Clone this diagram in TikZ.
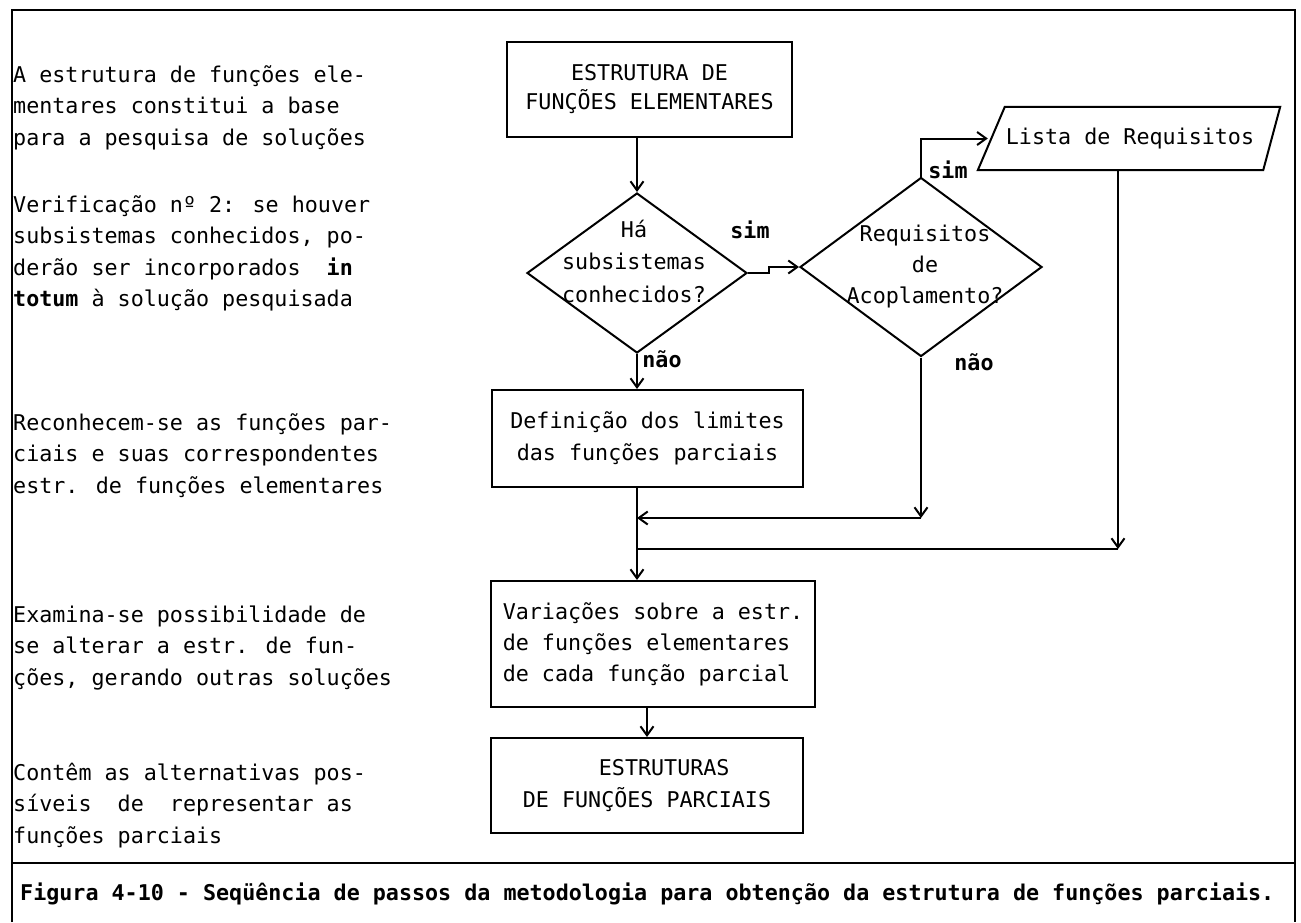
\documentclass[tikz,border=0pt]{standalone}
\usepackage{fontspec}
\setmainfont{DejaVu Sans Mono}
\usetikzlibrary{arrows.meta,shapes.geometric}
\begin{document}
\begin{tikzpicture}[x=1pt,y=-1pt,
  box/.style={draw, line width=2pt, inner sep=0pt},
  dia/.style={draw, diamond, line width=2pt, inner sep=0pt},
  arr/.style={line width=2pt, -{Straight Barb[length=9pt,width=13pt]}},
  ln/.style={line width=2pt},
  frame/.style={line width=2.5pt},
  note/.style={anchor=north west, inner sep=0pt, align=left, font=\fontsize{21.7}{31.5}\selectfont},
  lbl/.style={inner sep=0pt, font=\fontsize{21.7}{26}\selectfont\bfseries}]
\useasboundingbox (0,0) rectangle (1301,922);
% frame
\draw[frame] (12,922) -- (12,10) -- (1295,10) -- (1295,922);
\draw[frame] (12,863) -- (1295,863);
% left notes
\node[note] (n1) at (13,60) {\strut A estrutura de funções ele-\\mentares constitui a base\\para a pesquisa de soluções};
\node[note] (n2) at (13,190) {\strut Verificação nº 2: se houver\\subsistemas conhecidos, po-\\derão ser incorporados\ \ \textbf{in}\\\textbf{totum} à solução pesquisada};
\node[note] (n3) at (13,408) {\strut Reconhecem-se as funções par-\\ciais e suas correspondentes\\estr. de funções elementares};
\node[note] (n4) at (13,600) {\strut Examina-se possibilidade de\\se alterar a estr. de fun-\\ções, gerando outras soluções};
\node[note] (n5) at (13,758) {\strut Contêm as alternativas pos-\\síveis\ \ de\ \ representar as\\funções parciais};
% flowchart nodes
\node[box, minimum width=285pt, minimum height=95pt, align=center, font=\fontsize{21.7}{27}\selectfont] (box1) at (649.5,89.5) {\strut ESTRUTURA DE\\FUNÇÕES ELEMENTARES\strut};
\node[dia, minimum width=220pt, minimum height=160pt] (d1) at (637,273) {};
\node[align=center, inner sep=0pt, font=\fontsize{21.7}{32.5}\selectfont] (d1t) at (634,263) {\strut Há\\subsistemas\\conhecidos?\strut};
\node[dia, minimum width=242pt, minimum height=179pt] (d2) at (921,267) {};
\node[align=center, inner sep=0pt, font=\fontsize{21.7}{31}\selectfont] (d2t) at (925,266) {\strut Requisitos\\de\\Acoplamento?\strut};
\node[inner sep=0pt, minimum width=270pt, minimum height=63pt, font=\fontsize{21.7}{26}\selectfont] (lista) at (1130,138.5) {Lista de Requisitos};
\draw[ln] ([xshift=10pt]lista.north west) -- ([xshift=15pt]lista.north east) -- ([xshift=-2pt]lista.south east) -- ([xshift=-17pt]lista.south west) -- cycle;
\node[box, minimum width=311pt, minimum height=97pt, align=center, font=\fontsize{21.7}{32}\selectfont] (defin) at (647.5,438.5) {\strut Definição dos limites\\das funções parciais\strut};
\node[box, minimum width=324pt, minimum height=126pt, align=left, font=\fontsize{21.7}{31}\selectfont] (var) at (653,644) {\strut Variações sobre a estr.\\de funções elementares\\de cada função parcial\strut};
\node[box, minimum width=312pt, minimum height=95pt, align=left, font=\fontsize{21.7}{32}\selectfont] (est) at (647,785.5) {\strut\hspace*{76pt}ESTRUTURAS\\DE FUNÇÕES PARCIAIS\strut};
% labels
\node[lbl] (sim1) at (750,230) {sim};
\node[lbl] (sim2) at (948,170) {sim};
\node[lbl] (nao1) at (662,359) {não};
\node[lbl] (nao2) at (974,362) {não};
% junction coordinates
\coordinate (j1r) at (921,518);
\coordinate (j1l) at (637,518);
\coordinate (j2r) at (1118,549);
\coordinate (j2l) at (637,549);
\coordinate (lin) at ([xshift=-7pt]lista.west);
% connectors
\draw[arr] (box1.south -| d1.north) -- (d1.north);
\draw[arr] (d1.east) -- ++(21,0) |- (d2.west);
\draw[arr] (d1.south) -- (d1.south |- defin.north);
\draw[arr] (d2.north) |- (lin);
\draw[arr] (d2.south) -- (j1r);
\draw[arr] (j1r) -- (j1l);
\draw[arr] ([xshift=-12pt]lista.south) -- (j2r);
\draw[ln] (j2r) -- (j2l);
\draw[arr] (defin.south -| d1.south) -- (var.north -| d1.south);
\draw[arr] (var.south -| est.north) -- (est.north);
% caption
\node[anchor=base west, inner sep=0pt, font=\fontsize{21.7}{26}\selectfont\bfseries] (cap) at (20,900) {Figura 4-10 - Seqüência de passos da metodologia para obtenção da estrutura de funções parciais.};
\end{tikzpicture}
\end{document}
